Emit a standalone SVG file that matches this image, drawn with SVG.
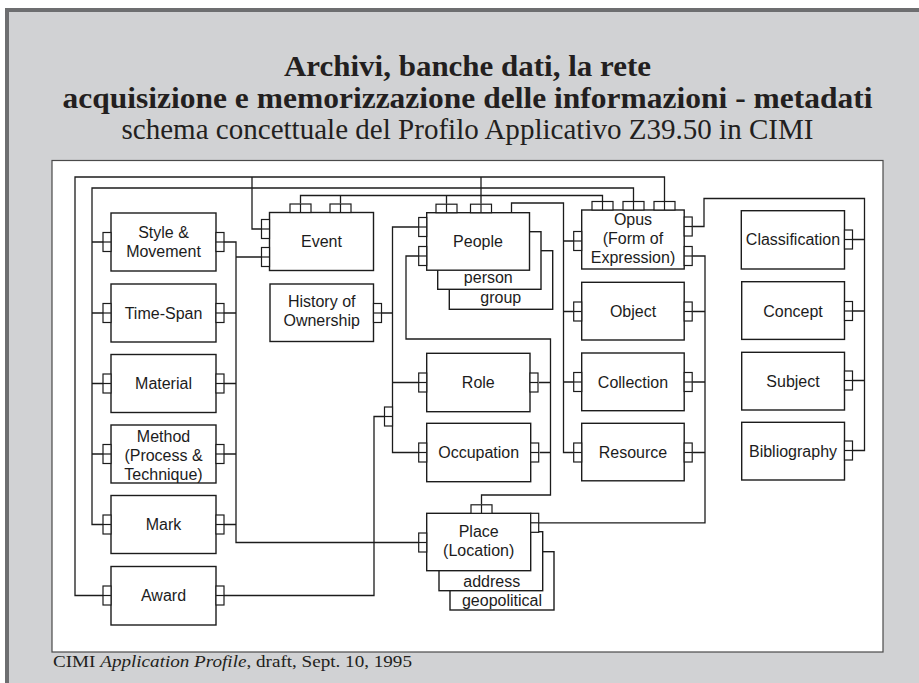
<svg xmlns="http://www.w3.org/2000/svg" xmlns:xlink="http://www.w3.org/1999/xlink" width="919" height="683" viewBox="0 0 919 683">
  <style>
    .box { fill: #ffffff; stroke: #1c1c1c; stroke-width: 1.4; }
    .cn { fill: #ffffff; stroke: #1c1c1c; stroke-width: 1.2; }
    .ln { fill: none; stroke: #1c1c1c; stroke-width: 1.3; }
    .lbl { font-family: "Liberation Sans", Arial, sans-serif; font-size: 16px; fill: #1c1c1c; text-anchor: middle; }
    .ttl { font-family: "Liberation Serif", "Times New Roman", serif; fill: #231f20; text-anchor: middle; }
    .foot { font-family: "Liberation Serif", "Times New Roman", serif; font-size: 17px; fill: #231f20; }
  </style>
  <defs>
    <!-- pair of stacked connector squares on a vertical edge -->
    <g id="cv">
      <rect class="cn" x="0" y="0" width="8" height="19"/>
      <line class="cn" x1="0" y1="9.5" x2="8" y2="9.5"/>
    </g>
    <!-- pair of side-by-side connector squares on a top edge -->
    <g id="ch">
      <rect class="cn" x="0" y="0" width="21" height="8.5"/>
      <line class="cn" x1="10.5" y1="0" x2="10.5" y2="8.5"/>
    </g>
  </defs>

  <!-- page background and frame -->
  <rect x="0" y="0" width="919" height="683" fill="#ffffff"/>
  <rect x="5" y="8" width="914" height="675" fill="#d1d2d4"/>
  <rect x="5" y="8" width="914" height="4" fill="#6d6e70"/>
  <rect x="5" y="8" width="4" height="675" fill="#6d6e70"/>

  <!-- headings -->
  <text class="ttl" x="467.5" y="76" font-size="30" font-weight="bold" textLength="367" lengthAdjust="spacingAndGlyphs">Archivi, banche dati, la rete</text>
  <text class="ttl" x="467.5" y="108" font-size="30" font-weight="bold" textLength="810" lengthAdjust="spacingAndGlyphs">acquisizione e memorizzazione delle informazioni - metadati</text>
  <text class="ttl" x="467.5" y="139" font-size="29" textLength="692" lengthAdjust="spacingAndGlyphs">schema concettuale del Profilo Applicativo Z39.50 in CIMI</text>

  <!-- white sheet holding the schema -->
  <rect x="52" y="160.5" width="831" height="491.5" fill="#ffffff" stroke="#4a4a4a" stroke-width="1.2"/>

  <!-- connectors -->
  <g id="connectors">
    <path class="ln" d="M103,595.5 H75 V177 H664.5 V201.5"/>
    <path class="ln" d="M252,177 V229 H261.5 M481,177 V203.7"/>
    <path class="ln" d="M103,524.5 H92 V188 H633.5 V201.5 M92,242 H103 M92,313 H103 M92,383.5 H103 M92,454 H103"/>
    <path class="ln" d="M224,242 H236 V542.5 H418.7 M224,313 H236 M224,383.5 H236 M224,454 H236 M224,524.5 H236 M236,257 H261.5"/>
    <path class="ln" d="M300.5,203.5 V195.5 H602.5 V201.5 M340.5,203.5 V195.5 M446.5,203.7 V195.5"/>
    <path class="ln" d="M511.5,212.7 V203 H563.5 V452.5 H573.7 M563.5,241 H573.7 M563.5,311.5 H573.7 M563.5,382 H573.7"/>
    <path class="ln" d="M418.7,227 H392.5 V452.5 H418.7 M381.5,313 H392.5 M392.5,382.5 H418.7"/>
    <path class="ln" d="M224,595.5 H374 V416.5 H384.5"/>
    <path class="ln" d="M418.7,256 H406 V339 H550.5 V495 H481.5 V504.3 M539,382.5 H550.5 M539.7,452.5 H550.5"/>
    <path class="ln" d="M539,522.8 H705 V256 H692.2 M692.2,311.5 H705 M692.2,382 H705 M692.2,452.5 H705"/>
    <path class="ln" d="M692.2,226.5 H704 V198.5 H864.5 V450.5 H853 M853,239.5 H864.5 M853,311 H864.5 M853,380.5 H864.5"/>
  </g>

  <!-- first column -->
  <g id="style-movement">
    <rect class="box" x="111" y="213" width="105" height="58"/>
    <use xlink:href="#cv" x="103" y="232.5"/>
    <use xlink:href="#cv" x="216" y="232.5"/>
    <text class="lbl" x="163.5" y="238.3">Style &amp;</text>
    <text class="lbl" x="163.5" y="257.3">Movement</text>
  </g>
  <g id="time-span">
    <rect class="box" x="111" y="284" width="105" height="58"/>
    <use xlink:href="#cv" x="103" y="303.5"/>
    <use xlink:href="#cv" x="216" y="303.5"/>
    <text class="lbl" x="163.5" y="318.7">Time-Span</text>
  </g>
  <g id="material">
    <rect class="box" x="111" y="354.5" width="105" height="58"/>
    <use xlink:href="#cv" x="103" y="374"/>
    <use xlink:href="#cv" x="216" y="374"/>
    <text class="lbl" x="163.5" y="389.2">Material</text>
  </g>
  <g id="method">
    <text class="lbl" x="163.5" y="441.7">Method</text>
    <text class="lbl" x="163.5" y="461">(Process &amp;</text>
    <text class="lbl" x="163.5" y="480">Technique)</text>
    <rect class="box" x="111" y="425" width="105" height="58" style="fill:none"/>
    <use xlink:href="#cv" x="103" y="444.5"/>
    <use xlink:href="#cv" x="216" y="444.5"/>
  </g>
  <g id="mark">
    <rect class="box" x="111" y="495.5" width="105" height="58"/>
    <use xlink:href="#cv" x="103" y="515"/>
    <use xlink:href="#cv" x="216" y="515"/>
    <text class="lbl" x="163.5" y="530.2">Mark</text>
  </g>
  <g id="award">
    <rect class="box" x="111" y="566.5" width="105" height="58.5"/>
    <use xlink:href="#cv" x="103" y="586"/>
    <use xlink:href="#cv" x="216" y="586"/>
    <text class="lbl" x="163.5" y="601.2">Award</text>
  </g>

  <!-- second column -->
  <g id="event">
    <rect class="box" x="269.5" y="212.5" width="104" height="58"/>
    <use xlink:href="#cv" x="261.5" y="219.5"/>
    <use xlink:href="#cv" x="261.5" y="247.5"/>
    <use xlink:href="#ch" x="290" y="204"/>
    <use xlink:href="#ch" x="330" y="204"/>
    <text class="lbl" x="321.5" y="247.3">Event</text>
  </g>
  <g id="history-of-ownership">
    <rect class="box" x="270" y="284" width="103.5" height="57.5"/>
    <use xlink:href="#cv" x="373.5" y="303.5"/>
    <text class="lbl" x="321.7" y="307.3">History of</text>
    <text class="lbl" x="321.7" y="326">Ownership</text>
  </g>

  <!-- third column -->
  <g id="people">
    <rect class="box" x="449.3" y="250.7" width="103.4" height="58.6"/>
    <text class="lbl" x="500.8" y="303.3">group</text>
    <rect class="box" x="437.7" y="231.7" width="103.3" height="57.6"/>
    <text class="lbl" x="488.3" y="283.3">person</text>
    <rect class="box" x="426.7" y="212.7" width="102.8" height="57.5"/>
    <use xlink:href="#cv" x="418.7" y="217.5"/>
    <use xlink:href="#cv" x="418.7" y="246.5"/>
    <use xlink:href="#ch" x="436" y="204.2"/>
    <use xlink:href="#ch" x="470.5" y="204.2"/>
    <text class="lbl" x="478" y="247">People</text>
  </g>
  <g id="role">
    <rect class="box" x="426.7" y="353.3" width="103.3" height="58.4"/>
    <use xlink:href="#cv" x="418.7" y="373"/>
    <use xlink:href="#cv" x="530" y="373"/>
    <text class="lbl" x="478.3" y="388.2">Role</text>
  </g>
  <g id="occupation">
    <rect class="box" x="426.7" y="423.3" width="104" height="58.4"/>
    <use xlink:href="#cv" x="418.7" y="443"/>
    <use xlink:href="#cv" x="530.7" y="443"/>
    <text class="lbl" x="478.7" y="458.2">Occupation</text>
  </g>
  <g id="place">
    <rect class="box" x="450" y="551.7" width="104" height="58.3"/>
    <text class="lbl" x="502" y="606">geopolitical</text>
    <rect class="box" x="439" y="531.7" width="103.7" height="59"/>
    <text class="lbl" x="491.7" y="586.7">address</text>
    <rect class="box" x="426.7" y="513.3" width="104" height="57.4"/>
    <use xlink:href="#cv" x="418.7" y="533"/>
    <use xlink:href="#cv" x="530.7" y="513.3"/>
    <use xlink:href="#ch" x="471" y="504.8"/>
    <text class="lbl" x="478.7" y="536.7">Place</text>
    <text class="lbl" x="478.7" y="556">(Location)</text>
  </g>
  <!-- junction block on the People/Role/Occupation bus -->
  <g id="bus-junction">
    <use xlink:href="#cv" x="384.5" y="407"/>
  </g>

  <!-- fourth column -->
  <g id="opus">
    <rect class="box" x="581.7" y="210" width="102.5" height="59"/>
    <use xlink:href="#cv" x="573.7" y="231.5"/>
    <use xlink:href="#cv" x="684.2" y="217"/>
    <use xlink:href="#cv" x="684.2" y="246.5"/>
    <use xlink:href="#ch" x="592" y="201.5"/>
    <use xlink:href="#ch" x="623" y="201.5"/>
    <use xlink:href="#ch" x="654" y="201.5"/>
    <text class="lbl" x="633" y="225">Opus</text>
    <text class="lbl" x="633" y="244">(Form of</text>
    <text class="lbl" x="633" y="262.7">Expression)</text>
  </g>
  <g id="object">
    <rect class="box" x="581.7" y="282.3" width="102.5" height="57.7"/>
    <use xlink:href="#cv" x="573.7" y="302"/>
    <use xlink:href="#cv" x="684.2" y="302"/>
    <text class="lbl" x="633" y="317">Object</text>
  </g>
  <g id="collection">
    <rect class="box" x="581.7" y="353" width="102.5" height="57.7"/>
    <use xlink:href="#cv" x="573.7" y="372.5"/>
    <use xlink:href="#cv" x="684.2" y="372.5"/>
    <text class="lbl" x="633" y="387.5">Collection</text>
  </g>
  <g id="resource">
    <rect class="box" x="581.7" y="423.3" width="102.5" height="57.5"/>
    <use xlink:href="#cv" x="573.7" y="443"/>
    <use xlink:href="#cv" x="684.2" y="443"/>
    <text class="lbl" x="633" y="458">Resource</text>
  </g>

  <!-- fifth column -->
  <g id="classification">
    <rect class="box" x="741.3" y="210.7" width="103.2" height="58.3"/>
    <use xlink:href="#cv" x="844.5" y="230"/>
    <text class="lbl" x="793" y="245.3">Classification</text>
  </g>
  <g id="concept">
    <rect class="box" x="741.7" y="281.7" width="102.8" height="57.7"/>
    <use xlink:href="#cv" x="844.5" y="301.5"/>
    <text class="lbl" x="793" y="316.5">Concept</text>
  </g>
  <g id="subject">
    <rect class="box" x="741.7" y="352.3" width="102.8" height="57.7"/>
    <use xlink:href="#cv" x="844.5" y="371"/>
    <text class="lbl" x="793" y="386.5">Subject</text>
  </g>
  <g id="bibliography">
    <rect class="box" x="741.7" y="422.3" width="102.8" height="57.7"/>
    <use xlink:href="#cv" x="844.5" y="441"/>
    <text class="lbl" x="793" y="456.5">Bibliography</text>
  </g>

  <!-- source line -->
  <text class="foot" x="53" y="667" textLength="359" lengthAdjust="spacingAndGlyphs">CIMI <tspan font-style="italic">Application Profile</tspan>, draft, Sept. 10, 1995</text>
</svg>
